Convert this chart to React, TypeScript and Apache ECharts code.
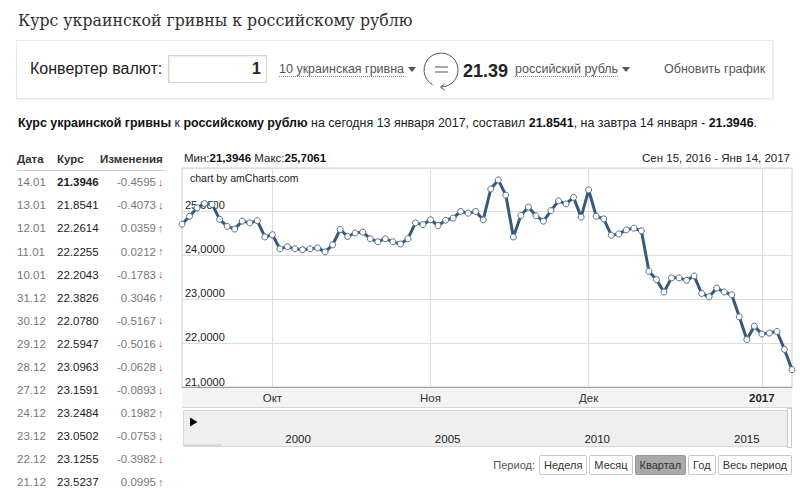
import React, { useEffect, useRef } from "react";
import * as echarts from "echarts";

// ---- chart data (10 UAH in RUB) ----
const dates = [
  "15.09","16.09","17.09","20.09","21.09","22.09","23.09","24.09","27.09","28.09","29.09","30.09",
  "01.10","04.10","05.10","06.10","07.10","08.10","11.10","12.10","13.10","14.10","15.10","18.10","19.10","20.10","21.10","22.10","25.10","26.10","27.10","28.10","29.10",
  "01.11","02.11","03.11","04.11","08.11","09.11","10.11","11.11","12.11","15.11","16.11","17.11","18.11","19.11","22.11","23.11","24.11","25.11","26.11","29.11","30.11",
  "01.12","02.12","03.12","06.12","07.12","08.12","09.12","10.12","13.12","14.12","15.12","16.12","17.12","20.12","21.12","22.12","23.12","24.12","27.12","28.12","29.12","30.12","31.12",
  "10.01","11.01","12.01","13.01","14.01"
];
const rates = [
  24.70, 24.88, 25.07, 25.17, 25.15, 24.81, 24.65, 24.59, 24.77, 24.73, 24.78, 24.41,
  24.46, 24.14, 24.19, 24.14, 24.12, 24.14, 24.16, 24.07, 24.23, 24.58, 24.42, 24.50, 24.52, 24.37, 24.30, 24.37, 24.30, 24.25, 24.37, 24.73, 24.69,
  24.80, 24.67, 24.79, 24.84, 24.99, 24.95, 24.99, 24.80, 25.50, 25.7061, 25.36, 24.41, 24.90, 25.09, 24.89, 24.77, 25.01, 25.23, 25.16, 25.31, 24.86,
  25.48, 24.88, 24.82, 24.45, 24.48, 24.57, 24.61, 24.55, 23.63, 23.44, 23.16, 23.48, 23.48, 23.4242, 23.5237, 23.1255, 23.0502, 23.2484, 23.1591, 23.0963, 22.5947, 22.0780, 22.3826,
  22.2043, 22.2255, 22.2614, 21.8541, 21.3946
];
const axisMarks: Record<string, string> = { "01.10": "Окт", "01.11": "Ноя", "01.12": "Дек", "10.01": "2017" };
const boldMarks = ["10.01"];

// navigator (scroller) year scale
const navMinYear = 1996;
const navMaxYear = 2016;
const navLabelStep = 5;

// ---- table data ----
const tableDates = ["14.01","13.01","12.01","11.01","10.01","31.12","30.12","29.12","28.12","27.12","24.12","23.12","22.12","21.12"];
const tableRates = ["21.3946","21.8541","22.2614","22.2255","22.2043","22.3826","22.0780","22.5947","23.0963","23.1591","23.2484","23.0502","23.1255","23.5237"];
const tableChanges = ["-0.4595","-0.4073","0.0359","0.0212","-0.1783","0.3046","-0.5167","-0.5016","-0.0628","-0.0893","0.1982","-0.0753","-0.3982","0.0995"];

const periods = ["Неделя", "Месяц", "Квартал", "Год", "Весь период"];
const activePeriod = "Квартал";

const FONT = 'Arial, "Liberation Sans", sans-serif';

function Txt(props: { left?: number; right?: number; cy: number; size: number; weight?: any; color?: string; family?: string; h?: number; children: any; style?: any }) {
  const h = props.h ?? Math.round(props.size * 1.4);
  const st: any = {
    position: "absolute",
    top: props.cy - h / 2,
    height: h,
    lineHeight: h + "px",
    fontSize: props.size,
    fontWeight: props.weight ?? "normal",
    color: props.color ?? "#333",
    fontFamily: props.family ?? FONT,
    whiteSpace: "nowrap",
    ...props.style,
  };
  if (props.left !== undefined) st.left = props.left;
  if (props.right !== undefined) { st.right = 800 - props.right; st.textAlign = "right"; }
  return <div style={st}>{props.children}</div>;
}

function Caret() {
  return (
    <span style={{ display: "inline-block", width: 0, height: 0, borderLeft: "4px solid transparent", borderRight: "4px solid transparent", borderTop: "5px solid #555", marginLeft: 4, verticalAlign: "middle" }} />
  );
}

export default function App() {
  const ref = useRef<HTMLDivElement>(null);

  useEffect(() => {
    if (!ref.current) return;
    const chart = echarts.init(ref.current, undefined, { renderer: "svg" });
    const option: any = {
      animation: false,
      textStyle: { fontFamily: FONT },
      grid: [
        { left: 182, top: 168, width: 610, height: 219, show: true, borderColor: "#cfcfcf", borderWidth: 1, backgroundColor: "#fff" },
        { left: 178.4, top: 410, width: 598.3, height: 21 },
      ],
      xAxis: [
        {
          type: "category",
          gridIndex: 0,
          data: dates,
          boundaryGap: false,
          axisLine: { show: true, lineStyle: { color: "#a0a0a0", width: 1 } },
          axisTick: { show: false },
          axisLabel: {
            interval: (_i: number, v: string) => v in axisMarks,
            formatter: (v: string) => (boldMarks.includes(v) ? "{b|" + axisMarks[v] + "}" : axisMarks[v] || ""),
            margin: 5,
            fontSize: 11.5,
            color: "#333",
            rich: { b: { fontWeight: "bold", fontSize: 11.5, color: "#222" } },
          },
          splitLine: { show: true, interval: (_i: number, v: string) => v in axisMarks, lineStyle: { color: "#dcdcdc", width: 1 } },
        },
        {
          type: "value",
          gridIndex: 1,
          min: navMinYear,
          max: navMaxYear,
          interval: 1,
          axisLine: { show: false },
          axisTick: { show: false },
          splitLine: { show: false },
          axisLabel: {
            margin: 2, fontSize: 11.5, color: "#222", showMinLabel: true, showMaxLabel: true,
            formatter: (v: number) => (v % navLabelStep === 0 ? String(v) : ""),
          },
        },
      ],
      yAxis: [
        {
          type: "value",
          gridIndex: 0,
          min: 21,
          max: 25.977,
          interval: 1,
          axisLine: { show: false },
          axisTick: { show: false },
          axisLabel: {
            inside: true,
            verticalAlign: "bottom",
            margin: 3,
            fontSize: 11,
            color: "#222",
            showMaxLabel: false,
            formatter: (v: number) => (Number.isInteger(v) ? v.toFixed(4).replace(".", ",") : ""),
          },
          splitLine: { lineStyle: { color: "#dcdcdc", width: 1 } },
        },
        { type: "value", gridIndex: 1, show: false, min: 0, max: 1 },
      ],
      series: [
        {
          type: "line",
          xAxisIndex: 0,
          yAxisIndex: 0,
          data: rates,
          symbol: "circle",
          symbolSize: 6,
          showAllSymbol: true,
          lineStyle: { color: "#36597c", width: 3 },
          itemStyle: { color: "#ffffff", borderColor: "#56728e", borderWidth: 1 },
          z: 3,
        },
      ],
      graphic: [
        { type: "rect", z: -10, shape: { x: 182, y: 388, width: 610, height: 19 }, style: { fill: "#f3f3f3" } },
        { type: "line", z: -9, shape: { x1: 182, y1: 407.5, x2: 792, y2: 407.5 }, style: { stroke: "#d6d6d6", lineWidth: 1 } },
        { type: "rect", z: -10, shape: { x: 183.5, y: 410.5, width: 604, height: 36 }, style: { fill: "#efefef", stroke: "#d8d8d8", lineWidth: 1 } },
        { type: "rect", z: -9, shape: { x: 184, y: 444, width: 38, height: 3 }, style: { fill: "#d9d9d9" } },
        { type: "rect", z: -9, shape: { x: 787.5, y: 408.5, width: 4, height: 39 }, style: { fill: "#fff", stroke: "#c8c8c8", lineWidth: 1 } },
        { type: "polygon", z: 5, shape: { points: [[190, 417.5], [197.5, 422], [190, 426.5]] }, style: { fill: "#000" } },
        { type: "text", z: 5, left: 190, top: 172, style: { text: "chart by amCharts.com", fontSize: 10.5, fill: "#222", fontFamily: FONT } },
        {
          type: "text", z: 5, left: 184, top: 152,
          style: {
            text: "Мин:{b|21,3946} Макс:{b|25,7061}",
            fontSize: 11.5, fill: "#222", fontFamily: FONT,
            rich: { b: { fontWeight: "bold", fontSize: 11.5, fill: "#111", fontFamily: FONT } },
          },
        },
        { type: "text", z: 5, right: 10, top: 152, style: { text: "Сен 15, 2016 - Янв 14, 2017", fontSize: 11.5, fill: "#222", fontFamily: FONT } },
      ],
    };
    chart.setOption(option);
    return () => chart.dispose();
  }, []);

  return (
    <div style={{ position: "absolute", left: 0, top: 0, width: 800, height: 496, overflow: "hidden", background: "#fff", fontFamily: FONT }}>
      <div ref={ref} style={{ position: "absolute", left: 0, top: 0, width: 800, height: 496, zIndex: 0 }} />
      <div style={{ position: "absolute", left: 0, top: 0, width: 800, height: 496, zIndex: 1, pointerEvents: "none" }}>
        {/* title */}
        <Txt left={18} cy={20} size={17.5} family='"DejaVu Serif Condensed", "DejaVu Serif", Georgia, serif' color="#2f2f2f" style={{ fontStretch: "condensed" }}>Курс украинской гривны к российскому рублю</Txt>

        {/* converter box */}
        <div style={{ position: "absolute", left: 16, top: 40, width: 755, height: 57, border: "1px solid #e8e8e8", boxShadow: "1px 1px 2px rgba(0,0,0,0.07)", background: "transparent" }} />
        <Txt left={30} cy={69} size={16} color="#222">Конвертер валют:</Txt>
        <div style={{ position: "absolute", left: 168, top: 55, width: 99, height: 28, border: "1px solid #d4d4d4", boxShadow: "inset 1px 1px 2px rgba(0,0,0,0.08)", background: "#fff", boxSizing: "border-box", textAlign: "right", paddingRight: 5, lineHeight: "26px", fontSize: 16, fontWeight: "bold", color: "#222" }}>1</div>
        <Txt left={279} cy={69} size={12.5} color="#555">
          <span style={{ borderBottom: "1px dotted #888" }}>10 украинская гривна</span><Caret />
        </Txt>
        <svg style={{ position: "absolute", left: 420, top: 50 }} width={42} height={42} viewBox="420 50 42 42">
          <path d="M 432.5 84.7 A 17 17 0 1 1 441 87" fill="none" stroke="#555" strokeWidth={1} />
          <path d="M 444.5 84 L 440.5 87 L 444.5 90" fill="none" stroke="#555" strokeWidth={1} />
          <line x1={435} y1={67} x2={448} y2={67} stroke="#555" strokeWidth={1} />
          <line x1={435} y1={72} x2={448} y2={72} stroke="#555" strokeWidth={1} />
        </svg>
        <Txt left={463} cy={71} size={18} weight="bold" color="#222">21.39</Txt>
        <Txt left={515} cy={69} size={12.5} color="#555">
          <span style={{ borderBottom: "1px dotted #888" }}>российский рубль</span><Caret />
        </Txt>
        <Txt left={664} cy={69} size={12.5} color="#555">Обновить график</Txt>

        {/* sentence */}
        <Txt left={18} cy={123} size={12.45} color="#222">
          <b style={{ color: "#111" }}>Курс украинской гривны</b> к <b style={{ color: "#111" }}>российскому рублю</b> на сегодня 13 января 2017, составил <b style={{ color: "#111" }}>21.8541</b>, на завтра 14 января - <b style={{ color: "#111" }}>21.3946</b>.
        </Txt>

        {/* table */}
        <Txt left={17} cy={159} size={11.5} weight="bold" color="#333">Дата</Txt>
        <Txt left={57} cy={159} size={11.5} weight="bold" color="#333">Курс</Txt>
        <Txt left={100} cy={159} size={11.5} weight="bold" color="#333">Изменения</Txt>
        <div style={{ position: "absolute", left: 17, top: 170, width: 148, height: 1, background: "#cfcfcf" }} />
        {tableDates.map((d, k) => {
          const cy = 182.3 + 23.09 * k;
          const up = !tableChanges[k].startsWith("-");
          return (
            <React.Fragment key={d}>
              <Txt left={17} cy={cy} size={11.5} color="#777">{d}</Txt>
              <Txt left={57} cy={cy} size={11.5} weight={k === 0 ? "bold" : "normal"} color="#222">{tableRates[k]}</Txt>
              <Txt right={156} cy={cy} size={11.5} color="#777">{tableChanges[k]}</Txt>
              <Txt left={158} cy={cy} size={11} color={up ? "#3a9a3a" : "#c9403a"}>{up ? "↑" : "↓"}</Txt>
            </React.Fragment>
          );
        })}

        {/* period buttons */}
        <div style={{ position: "absolute", right: 8, top: 455, height: 20, display: "flex", alignItems: "center", gap: 2, fontSize: 11, color: "#333" }}>
          <span style={{ color: "#555", marginRight: 2 }}>Период:</span>
          {periods.map((p) => (
            <div key={p} style={{ height: 18, lineHeight: "18px", padding: "0 4px", border: "1px solid " + (p === activePeriod ? "#999" : "#c8c8c8"), borderRadius: 2, background: p === activePeriod ? "#a9a9a9" : "#fff", color: "#333" }}>{p}</div>
          ))}
        </div>
      </div>
    </div>
  );
}
